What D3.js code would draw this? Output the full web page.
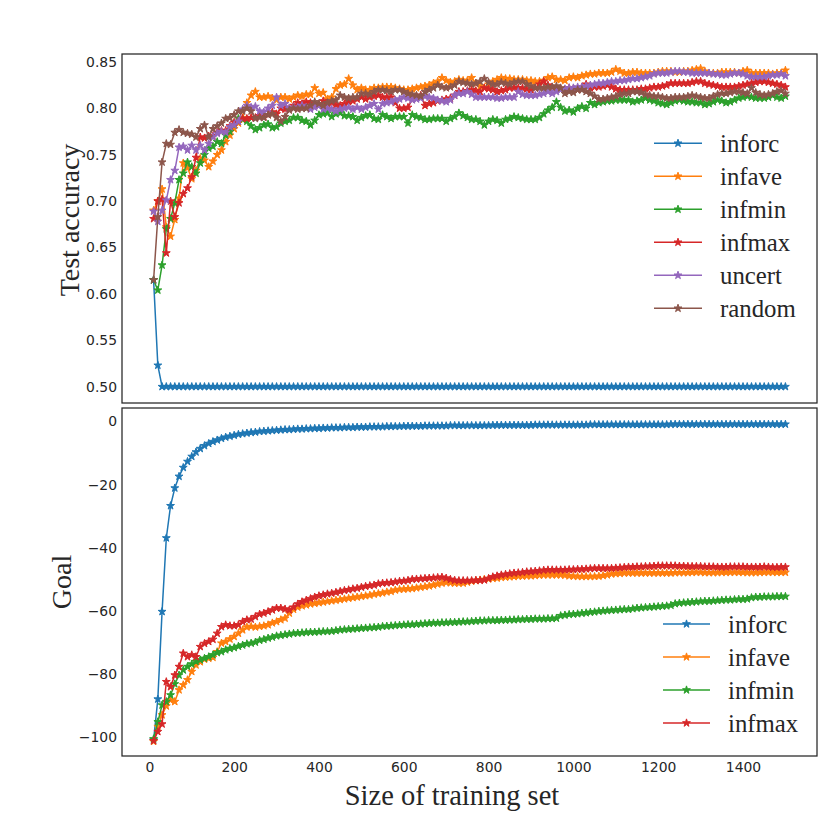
<!DOCTYPE html>
<html><head><meta charset="utf-8">
<script src="https://cdn.jsdelivr.net/npm/d3@7"></script>
<style>html,body{margin:0;padding:0;background:#fff;}</style>
</head><body>
<svg id="chart" width="830" height="830"></svg>
<script>
// ---------------- DATA ----------------
const sizes = [];
for (let s = 10; s <= 1500; s += 10) sizes.push(s); // training-set sizes 10..1500

const topNames = ["inforc", "infave", "infmin", "infmax", "uncert", "random"];
const bottomNames = ["inforc", "infave", "infmin", "infmax"];
const colors = ["#1f77b4", "#ff7f0e", "#2ca02c", "#d62728", "#9467bd", "#8c564b"];

const yTicksTop = [0.50, 0.55, 0.60, 0.65, 0.70, 0.75, 0.80, 0.85];
const yTicksBottom = [-100, -80, -60, -40, -20, 0];
const xTicks = [0, 200, 400, 600, 800, 1000, 1200, 1400];

// Test accuracy
const accInforc = [
0.615,0.523,0.500,0.500,0.500,0.500,0.500,0.500,0.500,0.500,
0.500,0.500,0.500,0.500,0.500,0.500,0.500,0.500,0.500,0.500,
0.500,0.500,0.500,0.500,0.500,0.500,0.500,0.500,0.500,0.500,
0.500,0.500,0.500,0.500,0.500,0.500,0.500,0.500,0.500,0.500,
0.500,0.500,0.500,0.500,0.500,0.500,0.500,0.500,0.500,0.500,
0.500,0.500,0.500,0.500,0.500,0.500,0.500,0.500,0.500,0.500,
0.500,0.500,0.500,0.500,0.500,0.500,0.500,0.500,0.500,0.500,
0.500,0.500,0.500,0.500,0.500,0.500,0.500,0.500,0.500,0.500,
0.500,0.500,0.500,0.500,0.500,0.500,0.500,0.500,0.500,0.500,
0.500,0.500,0.500,0.500,0.500,0.500,0.500,0.500,0.500,0.500,
0.500,0.500,0.500,0.500,0.500,0.500,0.500,0.500,0.500,0.500,
0.500,0.500,0.500,0.500,0.500,0.500,0.500,0.500,0.500,0.500,
0.500,0.500,0.500,0.500,0.500,0.500,0.500,0.500,0.500,0.500,
0.500,0.500,0.500,0.500,0.500,0.500,0.500,0.500,0.500,0.500,
0.500,0.500,0.500,0.500,0.500,0.500,0.500,0.500,0.500,0.500];
const accInfave = [
0.690,0.700,0.713,0.672,0.662,0.680,0.703,0.741,0.736,0.724,
0.733,0.746,0.744,0.737,0.743,0.750,0.755,0.764,0.771,0.778,
0.784,0.790,0.806,0.814,0.818,0.812,0.812,0.813,0.811,0.809,
0.812,0.812,0.810,0.812,0.814,0.813,0.815,0.815,0.822,0.816,
0.817,0.810,0.812,0.821,0.825,0.826,0.832,0.825,0.820,0.822,
0.820,0.820,0.822,0.822,0.823,0.823,0.823,0.822,0.821,0.820,
0.820,0.821,0.822,0.823,0.824,0.825,0.827,0.829,0.833,0.830,
0.828,0.829,0.831,0.830,0.830,0.833,0.827,0.824,0.822,0.826,
0.829,0.831,0.833,0.832,0.832,0.831,0.831,0.831,0.830,0.830,
0.829,0.829,0.830,0.833,0.834,0.831,0.831,0.830,0.833,0.834,
0.833,0.835,0.836,0.837,0.837,0.838,0.838,0.838,0.839,0.842,
0.840,0.838,0.838,0.839,0.839,0.838,0.838,0.838,0.838,0.839,
0.840,0.840,0.840,0.839,0.839,0.840,0.840,0.841,0.842,0.843,
0.840,0.838,0.838,0.838,0.839,0.839,0.839,0.839,0.838,0.840,
0.841,0.838,0.838,0.838,0.838,0.838,0.837,0.838,0.838,0.841];
const accInfmin = [
0.615,0.604,0.631,0.670,0.681,0.698,0.723,0.730,0.742,0.737,
0.730,0.741,0.750,0.757,0.759,0.764,0.762,0.771,0.775,0.782,
0.789,0.788,0.786,0.781,0.777,0.779,0.782,0.783,0.779,0.780,
0.784,0.786,0.787,0.790,0.790,0.787,0.786,0.782,0.787,0.793,
0.794,0.795,0.791,0.794,0.795,0.792,0.792,0.791,0.787,0.790,
0.792,0.793,0.789,0.788,0.793,0.791,0.789,0.791,0.791,0.791,
0.784,0.793,0.791,0.790,0.788,0.788,0.789,0.789,0.789,0.786,
0.789,0.791,0.795,0.792,0.790,0.788,0.788,0.786,0.782,0.786,
0.788,0.787,0.784,0.788,0.789,0.791,0.790,0.789,0.788,0.788,
0.788,0.790,0.794,0.798,0.801,0.807,0.801,0.797,0.798,0.796,
0.800,0.802,0.800,0.806,0.804,0.806,0.807,0.808,0.808,0.809,
0.809,0.809,0.809,0.807,0.808,0.809,0.811,0.809,0.808,0.806,
0.805,0.804,0.806,0.808,0.809,0.808,0.807,0.807,0.806,0.806,
0.804,0.805,0.807,0.809,0.808,0.806,0.807,0.809,0.811,0.812,
0.813,0.812,0.811,0.811,0.811,0.812,0.814,0.812,0.811,0.813];
const accInfmax = [
0.681,0.700,0.702,0.644,0.700,0.683,0.698,0.708,0.714,0.726,
0.747,0.769,0.768,0.770,0.770,0.774,0.776,0.776,0.781,0.785,
0.786,0.789,0.789,0.790,0.790,0.792,0.791,0.793,0.796,0.794,
0.800,0.799,0.800,0.803,0.806,0.805,0.807,0.806,0.803,0.804,
0.808,0.805,0.806,0.804,0.803,0.805,0.807,0.808,0.810,0.812,
0.810,0.812,0.813,0.814,0.812,0.812,0.812,0.806,0.800,0.800,
0.801,0.810,0.813,0.814,0.803,0.805,0.806,0.808,0.809,0.810,
0.811,0.814,0.818,0.818,0.819,0.820,0.819,0.818,0.822,0.821,
0.820,0.818,0.819,0.820,0.822,0.822,0.822,0.822,0.821,0.820,
0.822,0.826,0.829,0.825,0.823,0.822,0.821,0.820,0.822,0.821,
0.820,0.823,0.826,0.822,0.823,0.823,0.824,0.825,0.823,0.821,
0.820,0.820,0.820,0.820,0.820,0.821,0.821,0.822,0.823,0.823,
0.824,0.825,0.827,0.827,0.827,0.827,0.827,0.828,0.829,0.829,
0.827,0.826,0.825,0.824,0.823,0.823,0.823,0.823,0.824,0.825,
0.826,0.827,0.828,0.829,0.829,0.828,0.827,0.826,0.825,0.823];
const accUncert = [
0.689,0.678,0.690,0.701,0.723,0.733,0.758,0.759,0.755,0.760,
0.755,0.760,0.755,0.762,0.769,0.773,0.775,0.774,0.780,0.782,
0.786,0.799,0.803,0.801,0.802,0.797,0.796,0.800,0.803,0.812,
0.803,0.805,0.800,0.801,0.801,0.803,0.801,0.799,0.801,0.803,
0.799,0.800,0.799,0.797,0.799,0.800,0.801,0.799,0.801,0.799,
0.801,0.803,0.805,0.799,0.805,0.806,0.807,0.809,0.810,0.812,
0.811,0.809,0.810,0.811,0.813,0.812,0.811,0.809,0.808,0.807,
0.809,0.814,0.816,0.816,0.818,0.815,0.812,0.812,0.812,0.812,
0.812,0.811,0.811,0.812,0.812,0.812,0.818,0.815,0.814,0.814,
0.814,0.815,0.816,0.818,0.816,0.818,0.820,0.821,0.822,0.822,
0.823,0.823,0.824,0.825,0.826,0.827,0.827,0.828,0.829,0.829,
0.830,0.830,0.831,0.832,0.832,0.833,0.834,0.835,0.837,0.838,
0.838,0.838,0.839,0.840,0.840,0.839,0.839,0.838,0.838,0.838,
0.838,0.838,0.837,0.837,0.836,0.836,0.837,0.838,0.838,0.837,
0.835,0.834,0.834,0.834,0.834,0.835,0.836,0.836,0.837,0.835];
const accRandom = [
0.615,0.683,0.742,0.762,0.761,0.774,0.777,0.774,0.773,0.772,
0.769,0.778,0.782,0.769,0.778,0.781,0.784,0.789,0.790,0.793,
0.797,0.797,0.800,0.797,0.789,0.790,0.790,0.793,0.794,0.790,
0.786,0.791,0.798,0.800,0.799,0.800,0.800,0.803,0.807,0.805,
0.803,0.806,0.808,0.809,0.814,0.812,0.811,0.812,0.812,0.816,
0.816,0.815,0.818,0.820,0.820,0.819,0.818,0.820,0.820,0.818,
0.816,0.815,0.814,0.813,0.818,0.820,0.822,0.825,0.823,0.822,
0.823,0.825,0.829,0.828,0.827,0.826,0.827,0.829,0.832,0.828,
0.826,0.826,0.828,0.827,0.826,0.828,0.829,0.829,0.826,0.824,
0.822,0.822,0.822,0.823,0.823,0.824,0.822,0.816,0.818,0.817,
0.820,0.820,0.818,0.816,0.813,0.810,0.810,0.811,0.812,0.813,
0.815,0.816,0.816,0.818,0.818,0.817,0.815,0.814,0.813,0.813,
0.812,0.811,0.811,0.812,0.812,0.812,0.813,0.814,0.813,0.812,
0.811,0.811,0.813,0.815,0.816,0.816,0.817,0.818,0.818,0.817,
0.816,0.822,0.817,0.815,0.814,0.815,0.816,0.818,0.819,0.816];

// Goal
const goalInforc = [
-100.9,-87.9,-60.2,-36.9,-26.7,-21.1,-17.4,-14.6,-12.7,-11.1,
-9.7,-8.6,-7.7,-7.0,-6.4,-5.9,-5.4,-5.0,-4.7,-4.4,
-4.1,-3.9,-3.7,-3.5,-3.4,-3.2,-3.1,-3.0,-2.9,-2.8,
-2.7,-2.6,-2.6,-2.5,-2.4,-2.4,-2.3,-2.3,-2.2,-2.2,
-2.1,-2.1,-2.0,-2.0,-2.0,-1.9,-1.9,-1.9,-1.8,-1.8,
-1.8,-1.7,-1.7,-1.7,-1.7,-1.6,-1.6,-1.6,-1.6,-1.5,
-1.5,-1.5,-1.5,-1.5,-1.4,-1.4,-1.4,-1.4,-1.4,-1.4,
-1.3,-1.3,-1.3,-1.3,-1.3,-1.3,-1.3,-1.3,-1.3,-1.3,
-1.2,-1.2,-1.2,-1.2,-1.2,-1.2,-1.2,-1.2,-1.2,-1.2,
-1.1,-1.1,-1.1,-1.1,-1.1,-1.1,-1.1,-1.1,-1.1,-1.1,
-1.1,-1.1,-1.1,-1.0,-1.0,-1.0,-1.0,-1.0,-1.0,-1.0,
-1.0,-1.0,-1.0,-1.0,-1.0,-1.0,-1.0,-1.0,-1.0,-1.0,
-1.0,-1.0,-0.9,-0.9,-0.9,-0.9,-0.9,-0.9,-0.9,-0.9,
-0.9,-0.9,-0.9,-0.9,-0.9,-0.9,-0.9,-0.9,-0.9,-0.9,
-0.9,-0.9,-0.9,-0.9,-0.9,-0.9,-0.9,-0.9,-0.9,-0.9];
const goalInfave = [
-101.3,-96.6,-92.9,-90.1,-88.2,-88.7,-85.0,-83.4,-81.8,-79.2,
-77.1,-76.1,-75.3,-75.0,-74.7,-72.9,-70.2,-69.7,-68.9,-68.1,
-67.1,-66.0,-65.1,-64.9,-65.1,-64.9,-64.7,-64.4,-63.8,-63.4,
-62.8,-62.3,-60.7,-59.5,-58.8,-58.4,-58.1,-57.8,-57.6,-57.4,
-57.2,-57.0,-56.8,-56.6,-56.4,-56.2,-56.0,-55.8,-55.6,-55.4,
-55.2,-55.0,-54.7,-54.5,-54.3,-54.0,-53.8,-53.4,-53.2,-53.1,
-53.0,-52.9,-52.7,-52.5,-52.3,-52.1,-51.8,-51.5,-51.2,-51.0,
-51.1,-51.2,-51.2,-51.2,-50.9,-50.6,-50.4,-50.2,-50.0,-49.9,
-49.7,-49.6,-49.4,-49.3,-49.2,-49.1,-49.0,-49.0,-48.9,-48.9,
-48.8,-48.7,-48.6,-48.6,-48.6,-48.6,-48.6,-48.7,-48.9,-49.0,
-49.1,-49.1,-49.1,-49.1,-49.1,-49.0,-48.8,-48.6,-48.3,-48.2,
-48.1,-48.0,-48.0,-48.0,-48.0,-48.0,-48.0,-48.0,-48.0,-48.0,
-48.0,-48.0,-48.0,-47.9,-47.9,-47.9,-47.9,-47.8,-47.8,-47.8,
-47.9,-47.9,-47.9,-47.9,-47.8,-47.8,-47.8,-47.8,-47.8,-47.8,
-47.9,-47.9,-47.9,-47.8,-47.8,-47.8,-47.8,-47.8,-47.8,-47.8];
const goalInfmin = [
-100.5,-95.1,-89.8,-88.7,-86.6,-83.1,-80.3,-78.7,-77.6,-76.8,
-76.0,-75.5,-75.0,-74.5,-73.9,-73.2,-72.9,-72.3,-71.9,-71.6,
-71.2,-70.8,-70.4,-70.2,-69.9,-69.3,-69.0,-68.6,-68.3,-67.9,
-67.7,-67.5,-67.3,-67.1,-67.0,-66.9,-66.8,-66.7,-66.7,-66.6,
-66.5,-66.5,-66.4,-66.2,-66.0,-65.9,-65.8,-65.7,-65.6,-65.5,
-65.4,-65.3,-65.2,-65.1,-64.9,-64.8,-64.7,-64.6,-64.5,-64.4,
-64.3,-64.3,-64.2,-64.1,-64.0,-63.9,-63.8,-63.8,-63.7,-63.7,
-63.6,-63.6,-63.5,-63.4,-63.4,-63.3,-63.2,-63.1,-63.1,-63.0,
-63.0,-63.0,-62.9,-62.9,-62.8,-62.8,-62.7,-62.7,-62.6,-62.6,
-62.5,-62.5,-62.5,-62.4,-62.4,-62.3,-61.5,-61.3,-61.1,-61.0,
-60.9,-60.7,-60.6,-60.4,-60.3,-60.1,-60.0,-59.9,-59.8,-59.7,
-59.6,-59.5,-59.5,-59.3,-59.1,-59.0,-58.9,-58.8,-58.7,-58.6,
-58.5,-58.4,-58.2,-57.7,-57.5,-57.4,-57.3,-57.2,-57.1,-57.0,
-56.9,-56.9,-56.8,-56.7,-56.6,-56.5,-56.5,-56.4,-56.3,-56.3,
-56.2,-55.8,-55.6,-55.6,-55.5,-55.5,-55.5,-55.4,-55.4,-55.4];
const goalInfmax = [
-101.1,-98.2,-95.8,-82.4,-84.0,-80.3,-77.6,-73.4,-74.5,-73.9,
-74.5,-71.3,-70.3,-69.7,-69.0,-67.1,-65.0,-64.4,-64.7,-64.7,
-64.4,-63.4,-62.8,-62.6,-61.8,-61.0,-60.7,-60.2,-59.7,-59.1,
-59.1,-59.4,-59.7,-58.8,-57.8,-57.1,-56.6,-56.1,-55.6,-55.2,
-54.9,-54.6,-54.4,-54.1,-53.8,-53.5,-53.3,-53.0,-52.8,-52.5,
-52.2,-52.0,-51.8,-51.4,-51.2,-51.1,-51.0,-50.8,-50.6,-50.5,
-50.3,-50.0,-49.9,-49.8,-49.7,-49.6,-49.5,-49.4,-49.3,-49.6,
-50.0,-50.3,-50.4,-50.4,-50.4,-50.4,-50.3,-50.3,-50.2,-49.7,
-49.2,-48.9,-48.6,-48.4,-48.2,-48.0,-47.9,-47.8,-47.6,-47.5,
-47.4,-47.3,-47.1,-47.0,-47.0,-47.0,-47.0,-47.0,-46.9,-46.9,
-46.8,-46.8,-46.7,-46.6,-46.5,-46.5,-46.5,-46.5,-46.5,-46.4,
-46.3,-46.2,-46.1,-46.1,-46.0,-46.0,-45.9,-45.9,-45.8,-45.7,
-45.7,-45.7,-45.7,-45.7,-45.8,-45.8,-45.9,-45.9,-45.9,-45.9,
-46.0,-46.0,-46.0,-46.1,-46.1,-46.1,-46.0,-46.0,-46.0,-46.0,
-46.1,-46.1,-46.1,-46.1,-46.0,-46.1,-46.2,-46.2,-46.1,-46.1];

const topSeries = [accInforc, accInfave, accInfmin, accInfmax, accUncert, accRandom];
const bottomSeries = [goalInforc, goalInfave, goalInfmin, goalInfmax];

// ---------------- DRAW ----------------
const svg = d3.select("#chart");
const L = 122, R = 817;
const topBox = {t: 54, b: 403};
const botBox = {t: 408, b: 756};

const x = d3.scaleLinear().domain([-64.5, 1574.5]).range([L, R]);
const yTop = d3.scaleLinear().domain([0.4824, 0.8586]).range([topBox.b, topBox.t]);
const yBot = d3.scaleLinear().domain([-105.9, 4.25]).range([botBox.b, botBox.t]);

const tickFont = "'DejaVu Sans', sans-serif";
const serif = "'Liberation Serif', 'Times New Roman', serif";
const star = d3.symbol().type(d3.symbolStar).size(19);

function panel(y, box, series, names, yTicks, fmt, legend, showX, clipId) {
  const g = svg.append("g");
  svg.append("clipPath").attr("id", clipId).append("rect")
    .attr("x", L).attr("y", box.t).attr("width", R - L).attr("height", box.b - box.t);

  const ya = g.append("g").attr("transform", `translate(${L},0)`)
    .call(d3.axisLeft(y).tickValues(yTicks).tickSize(0).tickPadding(5).tickFormat(fmt));
  ya.select(".domain").remove();
  ya.selectAll("text").attr("font-family", tickFont).attr("font-size", "13.9px").attr("fill", "#262626");

  if (showX) {
    const xa = g.append("g").attr("transform", `translate(0,${box.b})`)
      .call(d3.axisBottom(x).tickValues(xTicks).tickSize(0).tickPadding(6).tickFormat(d3.format("d")));
    xa.select(".domain").remove();
    xa.selectAll("text").attr("font-family", tickFont).attr("font-size", "13.9px").attr("fill", "#262626");
  }

  const plot = g.append("g").attr("clip-path", `url(#${clipId})`);
  const line = d3.line().x((d, i) => x(sizes[i])).y(d => y(d));
  series.forEach((vals, k) => {
    const sg = plot.append("g");
    sg.append("path").datum(vals).attr("d", line)
      .attr("fill", "none").attr("stroke", colors[k]).attr("stroke-width", 1.5)
      .attr("stroke-linejoin", "round");
    sg.selectAll("path.m").data(vals).join("path").attr("class", "m")
      .attr("d", star)
      .attr("transform", (d, i) => `translate(${x(sizes[i])},${y(d)})`)
      .attr("fill", colors[k]).attr("stroke", colors[k]).attr("stroke-width", 1);
  });

  g.append("rect").attr("x", L).attr("y", box.t).attr("width", R - L).attr("height", box.b - box.t)
    .attr("fill", "none").attr("stroke", "#262626").attr("stroke-width", 1.25);

  const lg = g.append("g");
  names.forEach((n, k) => {
    const yy = legend.y0 + k * legend.dy;
    lg.append("line").attr("x1", legend.x1).attr("x2", legend.x2).attr("y1", yy).attr("y2", yy)
      .attr("stroke", colors[k]).attr("stroke-width", 1.5);
    lg.append("path").attr("d", star).attr("transform", `translate(${(legend.x1 + legend.x2) / 2},${yy})`)
      .attr("fill", colors[k]).attr("stroke", colors[k]).attr("stroke-width", 1);
    lg.append("text").attr("x", legend.tx).attr("y", yy + 8.5).text(n)
      .attr("font-family", serif).attr("font-size", "24.8px").attr("fill", "#262626");
  });
}

panel(yTop, topBox, topSeries, topNames, yTicksTop, d3.format(".2f"),
  {x1: 654, x2: 702, tx: 720, y0: 143.3, dy: 33}, false, "clipTop");
panel(yBot, botBox, bottomSeries, bottomNames, yTicksBottom, d => d3.format("d")(d).replace("-", "\u2212"),
  {x1: 663, x2: 710, tx: 728, y0: 624, dy: 33}, true, "clipBot");

svg.append("text").attr("transform", "translate(79,220) rotate(-90)").attr("text-anchor", "middle")
  .attr("font-family", serif).attr("font-size", "28px").attr("fill", "#262626").text("Test accuracy");
svg.append("text").attr("transform", "translate(71,582) rotate(-90)").attr("text-anchor", "middle")
  .attr("font-family", serif).attr("font-size", "28px").attr("fill", "#262626").text("Goal");
svg.append("text").attr("x", 452).attr("y", 805).attr("text-anchor", "middle")
  .attr("font-family", serif).attr("font-size", "28.5px").attr("fill", "#262626").text("Size of training set");
</script>
</body></html>
